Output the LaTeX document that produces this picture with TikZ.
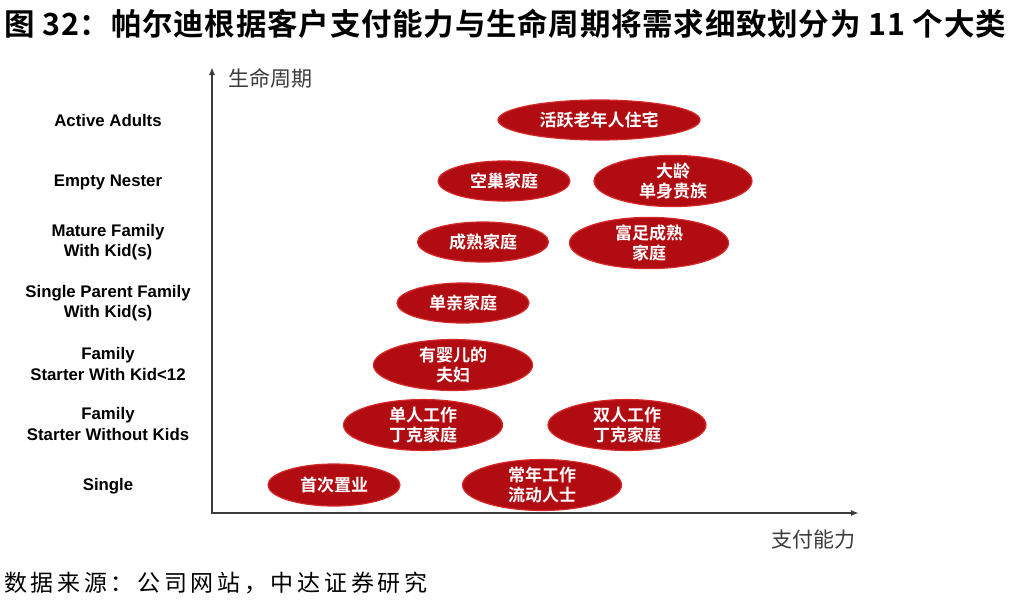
\documentclass[tikz,border=0pt]{standalone}
\usepackage{fontspec}
\setmainfont{Liberation Serif}
\newfontfamily\cjk{Noto Sans CJK SC}
\newfontfamily\cjkb{Noto Sans CJK SC Bold}
\newfontfamily\cjkbt[LetterSpace=2.5]{Noto Sans CJK SC Bold}
\newfontfamily\cjks[LetterSpace=16]{Noto Sans CJK SC}
\newfontfamily\lab{Liberation Sans}
\usetikzlibrary{shapes.geometric,arrows.meta}
\definecolor{ovalred}{RGB}{176,12,18}
\definecolor{ovaledge}{RGB}{214,40,40}
\definecolor{axisgray}{RGB}{60,60,60}
\begin{document}
\begin{tikzpicture}[x=1pt,y=-1pt,
  oval/.style={ellipse, fill=ovalred, draw=ovaledge, line width=1.2pt, inner sep=0pt,
    minimum height=40pt, text=white, align=center,
    font=\cjkb\fontsize{17}{20}\selectfont},
  rowlab/.style={align=center, font=\lab\bfseries\fontsize{16.8}{20.5}\selectfont, text=black},
  axis/.style={line width=1.6pt, draw=axisgray, -{Latex[length=8pt,width=6pt]}},
  axlab/.style={font=\cjk\fontsize{21}{24}\selectfont, text=axisgray, inner sep=0pt}]
\useasboundingbox (0,0) rectangle (1010,603);
\fill[white] (0,0) rectangle (1010,603);
% title
\node[anchor=west, inner sep=0pt, font=\cjkbt\fontsize{30.5}{33}\selectfont] (title) at (4,24)
  {图 32：帕尔迪根据客户支付能力与生命周期将需求细致划分为 11 个大类};
% axes
\coordinate (origin) at (212,513);
\coordinate (ytip) at (212,67);
\coordinate (xtip) at (859,513);
\draw[axis] (origin) -- (ytip);
\draw[axis] ([xshift=-0.8pt]origin) -- (xtip);
\node[axlab, anchor=west] (ylab) at (228,78) {生命周期};
\node[axlab, anchor=east] (xlab) at (856,540) {支付能力};
% row labels
\node[rowlab] (r1) at (108,120) {Active Adults};
\node[rowlab] (r2) at (108,182) {Empty Nester};
\node[rowlab] (r3) at (108,242) {Mature Family\\With Kid(s)};
\node[rowlab] (r4) at (108,303) {Single Parent Family\\With Kid(s)};
\node[rowlab] (r5) at (108,364) {Family\\Starter With Kid<12};
\node[rowlab] (r6) at (108,424) {Family\\Starter Without Kids};
\node[rowlab] (r7) at (108,486) {Single};
% ovals
\node[oval, minimum width=202pt] (o1) at (599,120) {活跃老年人住宅};
\node[oval, minimum width=132pt] (o2) at (504,181) {空巢家庭};
\node[oval, minimum width=158pt, minimum height=42pt] (o3) at (673,181) {大龄\\单身贵族};
\node[oval, minimum width=131pt] (o4) at (483,242) {成熟家庭};
\node[oval, minimum width=159pt, minimum height=42pt] (o5) at (649,243) {富足成熟\\家庭};
\node[oval, minimum width=132pt] (o6) at (463,303) {单亲家庭};
\node[oval, minimum width=159pt] (o7) at (453,365) {有婴儿的\\夫妇};
\node[oval, minimum width=159pt] (o8) at (423,425) {单人工作\\丁克家庭};
\node[oval, minimum width=158pt] (o9) at (627,425) {双人工作\\丁克家庭};
\node[oval, minimum width=132pt, minimum height=42pt] (o10) at (334,485) {首次置业};
\node[oval, minimum width=159pt, minimum height=42pt] (o11) at (542,485) {常年工作\\流动人士};
% source
\node[anchor=west, inner sep=0pt, font=\cjks\fontsize{23}{25}\selectfont] (src) at (4,583)
  {数据来源：公司网站，中达证券研究};
\end{tikzpicture}
\end{document}
